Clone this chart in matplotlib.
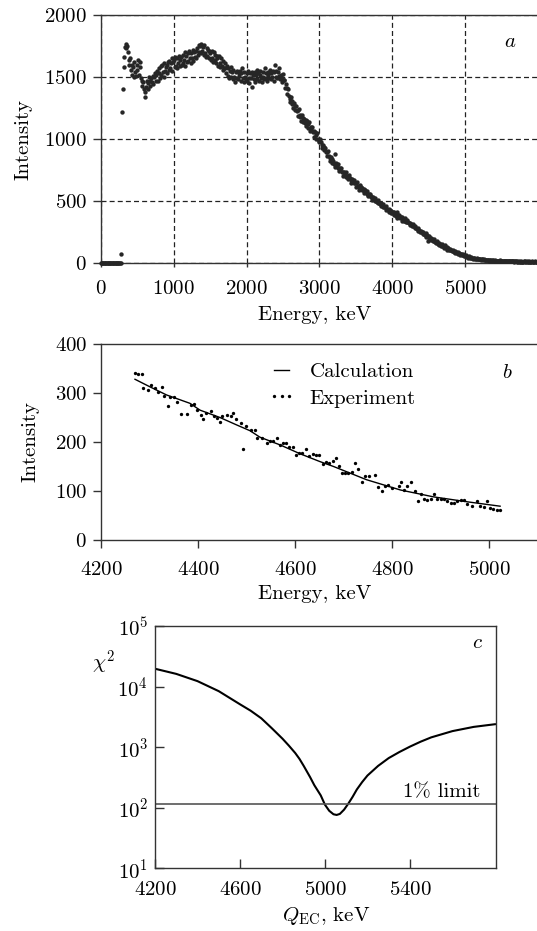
import numpy as np
import matplotlib
matplotlib.use('Agg')
import matplotlib.pyplot as plt
from matplotlib.ticker import NullLocator, LogLocator, LogFormatterMathtext

plt.rcParams['font.family'] = 'serif'
plt.rcParams['font.serif'] = ['cmr10', 'DejaVu Serif']
plt.rcParams['mathtext.fontset'] = 'cm'
plt.rcParams['axes.formatter.use_mathtext'] = True
plt.rcParams['font.size'] = 15
plt.rcParams['axes.unicode_minus'] = False

# ---------------- Panel a: full spectrum ----------------
spec_step_keV = 10
spec_I = [
    0, 0, 0, 0, 0, 0, 0, 0, 0, 0,
    0, 0, 0, 0, 0, 0, 0, 0, 0, 0,
    0, 0, 0, 0, 0, 0, 0, 0, 70, 1215,
    1400, 1580, 1665, 1745, 1770, 1730, 1750, 1700, 1640, 1600,
    1650, 1560, 1600, 1520, 1580, 1500, 1620, 1540, 1510, 1560,
    1600, 1640, 1520, 1580, 1620, 1490, 1470, 1430, 1460, 1400,
    1340, 1380, 1420, 1470, 1400, 1450, 1500, 1430, 1470, 1490,
    1460, 1510, 1440, 1500, 1530, 1470, 1520, 1550, 1470, 1530,
    1570, 1490, 1590, 1520, 1600, 1540, 1500, 1610, 1550, 1580,
    1600, 1530, 1620, 1560, 1630, 1570, 1610, 1650, 1550, 1620,
    1640, 1580, 1660, 1590, 1570, 1650, 1610, 1670, 1590, 1640,
    1660, 1600, 1680, 1610, 1640, 1700, 1590, 1670, 1620, 1690,
    1630, 1710, 1650, 1610, 1690, 1650, 1720, 1630, 1700, 1660,
    1710, 1650, 1730, 1680, 1760, 1700, 1750, 1690, 1765, 1710,
    1740, 1680, 1760, 1690, 1660, 1730, 1670, 1720, 1650, 1710,
    1690, 1640, 1710, 1650, 1620, 1700, 1640, 1680, 1610, 1670,
    1650, 1590, 1670, 1610, 1580, 1650, 1590, 1560, 1630, 1570,
    1570, 1610, 1530, 1590, 1510, 1570, 1490, 1550, 1580, 1500,
    1540, 1480, 1560, 1500, 1460, 1540, 1490, 1550, 1480, 1530,
    1510, 1550, 1470, 1530, 1570, 1490, 1460, 1540, 1500, 1480,
    1530, 1470, 1550, 1490, 1450, 1530, 1490, 1540, 1420, 1520,
    1480, 1540, 1460, 1520, 1560, 1480, 1530, 1470, 1520, 1550,
    1490, 1460, 1540, 1500, 1480, 1570, 1490, 1530, 1470, 1520,
    1540, 1490, 1560, 1480, 1530, 1500, 1550, 1470, 1540, 1600,
    1500, 1550, 1490, 1540, 1510, 1570, 1480, 1520, 1490, 1460,
    1524, 1478, 1474, 1414, 1446, 1410, 1366, 1406, 1346, 1319,
    1300, 1342, 1308, 1282, 1248, 1290, 1264, 1234, 1268, 1226,
    1232, 1184, 1240, 1196, 1176, 1144, 1196, 1172, 1136, 1164,
    1132, 1150, 1103, 1148, 1118, 1092, 1141, 1062, 1100, 1082,
    1099, 1055, 1062, 1014, 1057, 1032, 1000, 1052, 1003, 983,
    975, 1004, 976, 954, 926, 955, 933, 908, 931, 897,
    899, 861, 900, 865, 847, 821, 857, 837, 807, 826,
    799, 880, 775, 808, 784, 763, 799, 739, 766, 751,
    763, 731, 737, 702, 735, 718, 694, 734, 698, 684,
    675, 709, 686, 669, 646, 680, 663, 643, 671, 642,
    649, 614, 657, 625, 611, 588, 628, 611, 585, 607,
    586, 594, 567, 591, 573, 557, 583, 539, 558, 547,
    555, 530, 534, 507, 531, 517, 499, 527, 500, 488,
    481, 506, 487, 475, 456, 481, 468, 452, 472, 450,
    455, 429, 460, 437, 426, 409, 438, 425, 407, 423,
    406, 415, 390, 414, 397, 383, 410, 366, 387, 377,
    386, 362, 367, 342, 367, 354, 337, 366, 341, 330,
    327, 344, 330, 320, 306, 323, 313, 301, 314, 297,
    300, 280, 300, 282, 273, 260, 279, 268, 253, 262,
    249, 254, 234, 250, 237, 225, 243, 210, 223, 178,
    220, 201, 204, 184, 200, 190, 176, 196, 176, 168,
    162, 180, 166, 157, 143, 161, 151, 140, 153, 137,
    140, 121, 143, 126, 118, 106, 127, 117, 103, 114,
    103, 107, 95, 104, 96, 89, 99, 81, 88, 83,
    85, 75, 77, 65, 75, 69, 62, 73, 61, 56,
    53, 63, 57, 51, 44, 55, 49, 42, 50, 42,
    43, 36, 44, 38, 35, 31, 39, 35, 30, 34,
    30, 32, 27, 33, 29, 26, 32, 22, 27, 25,
    26, 23, 23, 19, 24, 22, 20, 25, 21, 18,
    18, 23, 20, 18, 16, 20, 18, 16, 21, 17,
    18, 15, 20, 16, 15, 13, 18, 17, 13, 16,
    14, 16, 13, 16, 14, 13, 17, 12, 14, 13,
    15, 12, 13, 10, 14, 12, 11, 15, 12, 11,
    10, 14, 13, 11, 10, 14, 12, 11, 13, 11,
    12, 9, 14, 11, 10, 9, 13, 12, 8, 11,
]
spec_E = np.arange(len(spec_I)) * spec_step_keV
a_xticks = [0, 1000, 2000, 3000, 4000, 5000]
a_yticks = [0, 500, 1000, 1500, 2000]

# ---------------- Panel b: fit region ----------------
exp_E = [4270, 4277, 4284, 4286, 4297, 4304, 4311, 4318, 4326, 4330,
         4337, 4343, 4350, 4357, 4364, 4378, 4385, 4391, 4398, 4405,
         4411, 4416, 4426, 4433, 4439, 4445, 4450, 4459, 4467, 4472,
         4478, 4488, 4493, 4499, 4508, 4517, 4521, 4531, 4541, 4548,
         4555, 4562, 4569, 4575, 4582, 4588, 4595, 4602, 4608, 4615,
         4622, 4629, 4636, 4643, 4650, 4657, 4664, 4670, 4677, 4684,
         4691, 4696, 4703, 4709, 4716, 4723, 4730, 4737, 4744, 4751,
         4764, 4771, 4778, 4785, 4792, 4799, 4813, 4818, 4824, 4831,
         4838, 4846, 4852, 4859, 4866, 4872, 4879, 4886, 4893, 4900,
         4906, 4913, 4920, 4927, 4934, 4941, 4948, 4954, 4965, 4974,
         4981, 4988, 4995, 5002, 5008, 5015, 5022]
exp_I = [341, 339, 339, 310, 307, 316, 310, 303, 313, 294,
         274, 292, 292, 282, 257, 258, 275, 277, 265, 255,
         246, 260, 263, 254, 250, 241, 253, 256, 253, 260,
         247, 238, 186, 233, 224, 224, 209, 209, 197, 202,
         202, 209, 194, 198, 197, 189, 189, 173, 178, 178,
         185, 171, 175, 173, 173, 156, 160, 158, 162, 167,
         152, 136, 136, 137, 139, 158, 144, 118, 131, 131,
         133, 109, 100, 111, 112, 107, 111, 118, 103, 110,
         118, 100, 80, 94, 84, 82, 84, 94, 84, 84,
         83, 80, 75, 75, 80, 82, 82, 73, 69, 79,
         69, 68, 80, 66, 64, 61, 61]
calc_E = [4270, 4300, 4335, 4383, 4404, 4445, 4479, 4507, 4527, 4569,
          4610, 4651, 4679, 4747, 4817, 4885, 4954, 5022]
calc_I = [328, 313, 296, 279, 265, 250, 235, 223, 210, 194,
          176, 160, 150, 123, 102, 88, 78, 69]
b_xticks = [4200, 4400, 4600, 4800, 5000]
b_yticks = [0, 100, 200, 300, 400]

# ---------------- Panel c: chi-square vs Q_EC ----------------
chi_Q = [4200, 4300, 4400, 4500, 4600, 4650, 4700, 4750, 4800, 4830,
         4860, 4880, 4900, 4930, 4950, 4980, 5000, 5020, 5040, 5055,
         5070, 5090, 5110, 5130, 5150, 5175, 5200, 5250, 5300, 5350,
         5400, 5450, 5500, 5600, 5700, 5800]
chi_V = [19700, 16200, 12300, 8400, 5100, 4000, 3000, 2050, 1380, 1060,
         800, 640, 490, 320, 235, 160, 112, 89, 78, 76,
         79, 93, 117, 151, 200, 265, 340, 490, 660, 830,
         1020, 1230, 1450, 1840, 2160, 2390]
limit_1pct = 116
c_xticks = [4200, 4600, 5000, 5400]

spine_c = '#333333'

fig = plt.figure(figsize=(5.37, 9.31), dpi=100)
W, H = 537.0, 931.0

def style_spines(ax):
    for s in ax.spines.values():
        s.set_color(spine_c)
        s.set_linewidth(1.0)

# Panel a
axa = fig.add_axes([101 / W, 1 - 263 / H, 436 / W, 248 / H])
axa.scatter(spec_E, spec_I, s=10, color='#262626', linewidths=0,
            clip_on=False, zorder=3)
axa.set_xlim(0, 5990)
axa.set_ylim(0, 2000)
axa.set_xticks(a_xticks)
axa.set_yticks(a_yticks)
axa.grid(True, linestyle=(0, (4, 2.5)), color='#222222', linewidth=0.9)
axa.spines['right'].set_visible(False)
style_spines(axa)
axa.tick_params(axis='y', direction='out', length=6, width=1, color=spine_c, pad=4)
axa.tick_params(axis='x', direction='out', length=3, width=1, color=spine_c, pad=9.5)
axa.set_ylabel('Intensity')
axa.set_xlabel('Energy, keV')
axa.yaxis.set_label_coords(-0.156, 0.5)
axa.xaxis.set_label_coords(0.49, -0.172)
axa.text(0.938, 0.89, r'$a$', transform=axa.transAxes, ha='center', va='center')

# Panel b
axb = fig.add_axes([101 / W, 1 - 540 / H, 436 / W, 196 / H])
axb.plot(calc_E, calc_I, color='k', lw=1.0, label='Calculation')
axb.plot(exp_E, exp_I, ls='none', marker='o', ms=2.4, color='k',
         markeredgewidth=0, label='Experiment')
axb.set_xlim(4200, 5098)
axb.set_ylim(0, 400)
axb.set_xticks(b_xticks)
axb.set_yticks(b_yticks)
axb.spines['right'].set_visible(False)
style_spines(axb)
axb.tick_params(direction='out', length=6, width=1, color=spine_c, pad=4)
axb.tick_params(axis='x', pad=9)
axb.set_ylabel('Intensity')
axb.set_xlabel('Energy, keV')
axb.yaxis.set_label_coords(-0.14, 0.5)
axb.xaxis.set_label_coords(0.49, -0.228)
axb.legend(loc='upper left', bbox_to_anchor=(0.383, 0.905), frameon=False,
           borderpad=0, borderaxespad=0, handlelength=1.3, handletextpad=0.7,
           labelspacing=0.38, numpoints=3, fontsize=15)
axb.text(0.933, 0.852, r'$b$', transform=axb.transAxes, ha='center', va='center')

# Panel c
axc = fig.add_axes([155 / W, 1 - 868.3 / H, 341 / W, 242.3 / H])
axc.plot(chi_Q, chi_V, color='k', lw=1.5)
axc.axhline(limit_1pct, color='#555555', lw=1.2)
axc.set_yscale('log')
axc.set_ylim(10, 1e5)
axc.set_xlim(4200, 5805)
axc.set_xticks(c_xticks)
axc.yaxis.set_major_locator(LogLocator(base=10, numticks=10))
axc.yaxis.set_minor_locator(NullLocator())
axc.yaxis.set_major_formatter(LogFormatterMathtext())
style_spines(axc)
axc.tick_params(direction='in', length=6.5, width=1, color=spine_c, pad=5)
axc.tick_params(axis='x', pad=9)
axc.set_xlabel(r'$Q_{\rm EC}$, keV')
axc.xaxis.set_label_coords(0.501, -0.15)
axc.text(-0.152, 0.847, r'$\chi^2$', transform=axc.transAxes, ha='center', va='center')
axc.text(0.953, limit_1pct * 1.12, '1% limit', transform=axc.get_yaxis_transform(),
         ha='right', va='bottom')
axc.text(0.947, 0.93, r'$c$', transform=axc.transAxes, ha='center', va='center')

fig.savefig('out.png', dpi=100, facecolor='white')
